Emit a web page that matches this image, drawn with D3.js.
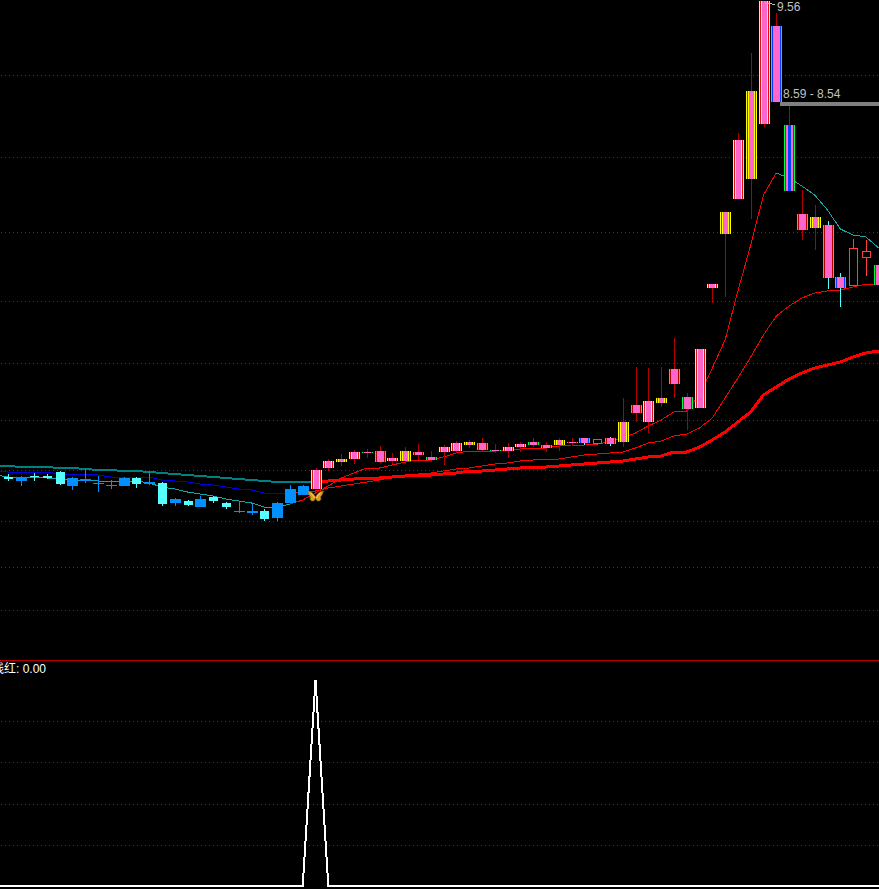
<!DOCTYPE html>
<html><head><meta charset="utf-8">
<script src="https://cdn.jsdelivr.net/npm/d3@7"></script>
<style>html,body{margin:0;padding:0;background:#000;overflow:hidden}svg{display:block}</style>
</head><body><svg id="c" width="879" height="889"></svg>
<script>
const bodyTop=[4.80,4.80,4.81,4.81,4.85,4.79,4.78,4.74,4.72,4.79,4.79,4.75,4.74,4.58,4.56,4.58,4.60,4.54,4.46,4.46,4.46,4.54,4.68,4.71,4.87,4.96,4.98,5.05,5.05,5.06,4.99,5.06,5.05,5.00,5.10,5.14,5.15,5.14,5.07,5.10,5.13,5.15,5.12,5.17,5.15,5.19,5.18,5.19,5.35,5.52,5.56,5.59,5.88,5.60,6.08,6.73,7.45,8.17,8.66,9.56,9.31,8.32,7.43,7.40,7.32,6.80,7.09,7.06,6.92];
const bodyBot=[4.78,4.76,4.80,4.79,4.73,4.71,4.76,4.73,4.71,4.71,4.73,4.73,4.53,4.54,4.52,4.50,4.56,4.50,4.45,4.44,4.38,4.39,4.54,4.62,4.68,4.89,4.95,4.98,5.04,4.95,4.96,4.96,5.02,4.97,5.05,5.06,5.12,5.07,5.06,5.06,5.10,5.12,5.09,5.12,5.14,5.14,5.14,5.13,5.15,5.44,5.35,5.54,5.73,5.48,5.49,6.69,7.23,7.58,7.78,8.33,8.55,7.66,7.27,7.29,6.79,6.69,6.72,7.00,6.72];
const highs=[4.83,4.81,4.84,4.83,4.86,4.80,4.88,4.81,4.77,4.80,4.80,4.85,4.75,4.59,4.57,4.61,4.61,4.55,4.55,4.53,4.48,4.55,4.72,4.72,4.89,4.98,5.03,5.07,5.08,5.11,5.04,5.10,5.13,5.06,5.12,5.16,5.17,5.19,5.13,5.14,5.15,5.19,5.15,5.19,5.19,5.19,5.18,5.20,5.59,5.90,5.89,5.90,6.19,5.64,6.08,6.73,7.45,8.24,9.04,9.56,9.44,8.51,7.67,7.52,7.36,6.84,7.18,7.17,7.02];
const lows=[4.76,4.71,4.76,4.78,4.72,4.67,4.74,4.65,4.68,4.71,4.69,4.72,4.51,4.51,4.51,4.50,4.54,4.48,4.44,4.42,4.36,4.36,4.54,4.62,4.68,4.86,4.91,4.93,4.99,4.94,4.93,4.93,4.97,4.95,4.92,5.04,5.09,5.05,5.04,4.99,5.05,5.10,5.05,5.06,5.11,5.12,5.12,5.11,5.10,5.35,5.24,5.50,5.59,5.27,5.49,6.54,6.60,7.58,7.38,8.30,8.55,7.66,7.17,7.07,6.68,6.50,6.72,6.81,6.67];
// c cyan, u blue, y yellow stripe, g green stripe, b blue stripe, m green+blue core, h hollow
const kinds="cucccuuuuucucucuccuucuuu".concat("yyyybgyygbyyygbyybgygbhgygyygbyyyyyybmgygbhhb");
const cyanWicks=[45,47,64,65,68];
// moving averages start one bar before the first candle
const fastMA=[4.82,4.80,4.80,4.80,4.79,4.78,4.77,4.77,4.76,4.76,4.76,4.76,4.74,4.70,4.68,4.65,4.63,4.61,4.58,4.56,4.54,4.50,4.50,4.53,4.57,4.64,4.71,4.79,4.84,4.89,4.89,4.92,4.95,4.97,4.97,5.00,5.04,5.06,5.06,5.06,5.07,5.08,5.09,5.09,5.11,5.12,5.12,5.13,5.15,5.19,5.24,5.31,5.37,5.45,5.46,5.62,5.89,6.17,6.66,7.12,7.62,7.84,7.79,7.71,7.62,7.47,7.28,7.22,7.20,7.09];
const midMA=[4.86,4.85,4.85,4.85,4.85,4.83,4.83,4.83,4.82,4.80,4.80,4.80,4.80,4.77,4.76,4.75,4.73,4.72,4.70,4.68,4.67,4.64,4.64,4.63,4.66,4.66,4.69,4.71,4.73,4.75,4.77,4.80,4.81,4.83,4.84,4.86,4.88,4.89,4.91,4.93,4.94,4.96,4.97,4.98,4.98,5.00,5.02,5.03,5.04,5.05,5.09,5.14,5.16,5.21,5.23,5.29,5.39,5.59,5.79,6.00,6.22,6.41,6.51,6.59,6.64,6.66,6.67,6.70,6.73,6.73];
const slowMA=[4.91,4.91,4.90,4.90,4.90,4.89,4.89,4.88,4.87,4.87,4.86,4.86,4.85,4.84,4.83,4.82,4.81,4.80,4.79,4.78,4.77,4.76,4.75,4.75,4.75,4.75,4.76,4.77,4.78,4.79,4.79,4.80,4.81,4.82,4.82,4.83,4.84,4.86,4.86,4.87,4.88,4.89,4.90,4.90,4.91,4.92,4.93,4.94,4.95,4.96,4.98,5.00,5.01,5.05,5.05,5.10,5.17,5.25,5.35,5.45,5.62,5.70,5.78,5.84,5.89,5.92,5.95,6.00,6.04,6.06];
const priceGrid=[8.82,8.00,7.25,6.56,5.94,5.37,4.87,4.36,3.90,3.47];
const signalGrid=[0.2,0.4,0.6,0.8];
const signalBars=[0,23,24,25,68];
const signalVals=[0,0,1,0,0];
const signalBar=24, signalPrice=4.61;
const hiLabel="9.56", hiPrice=9.56, rangeLabel="8.59 - 8.54", rangeLevel=8.54, subLabel="线红: 0.00";

const svg=d3.select("#c");
const x=d3.scaleLinear().domain([0,68]).range([8.3,878.7]);
const y=d3.scaleLinear().domain([9.57,2.97]).range([0,660]);
const ys=d3.scaleLinear().domain([0,1]).range([886,680]);
const W=879;
const P="#ff66cc",Y="#ffff00",G="#00ff40",B="#0040ff",R="#b00000",C="#55ffff",U="#0090ff",H="#ff4040",D="#e01010";
const stripes={
 y:[Y,D,Y,P,P,P,P,P,Y,D,Y],
 g:[G,R,P,P,P,P,P,P,P,R,G],
 b:[G,B,P,P,P,P,P,P,P,B,G],
 m:[G,B,P,P,B,B,B,P,P,B,G]
};
// grid: one dot in every four pixels
const g=svg.append("g").attr("shape-rendering","crispEdges");
g.selectAll(".pg").data(priceGrid).join("line").attr("class","pg").attr("x1",1).attr("x2",W)
 .attr("y1",d=>Math.round(y(d))+.5).attr("y2",d=>Math.round(y(d))+.5)
 .attr("stroke","#c80000").attr("stroke-dasharray","1 3");
g.selectAll(".sg").data(signalGrid).join("line").attr("class","sg").attr("x1",1).attr("x2",W)
 .attr("y1",d=>Math.round(ys(d))+.5).attr("y2",d=>Math.round(ys(d))+.5)
 .attr("stroke","#c80000").attr("stroke-dasharray","1 3");
g.append("line").attr("x1",0).attr("x2",W).attr("y1",660.5).attr("y2",660.5).attr("stroke","#c00000");

// moving averages, split by colour run
function seg(arr,from,to,color,w){
 const line=d3.line().x(d=>x(d.i)).y(d=>y(d.v));
 const pts=arr.map((v,k)=>({i:k-1,v})).filter(d=>d.i>=from&&d.i<=to);
 svg.append("path").attr("d",line(pts)).attr("fill","none").attr("stroke",color)
  .attr("stroke-width",w).attr("shape-rendering","crispEdges");
}
seg(slowMA,-1,24,"#008080",2);
seg(slowMA,24,68,"#ff0000",3);
seg(midMA,-1,22,"#0000e0",1);
seg(midMA,22,68,"#ff0000",1);
seg(fastMA,-1,22,"#10a8a8",1);
seg(fastMA,22,60,"#ff0000",1);
seg(fastMA,60,68,"#10a8a8",1);

// candles
const cg=svg.append("g");
bodyTop.forEach((t,i)=>{
 const k=kinds[i], c=Math.round(x(i)), yt=Math.round(y(t)), yb=Math.round(y(bodyBot[i])),
  yh=Math.round(y(highs[i])), yl=Math.round(y(lows[i]));
 const wc=cyanWicks.includes(i)?C:k==="c"?C:k==="u"?U:k==="h"?H:R;
 cg.append("rect").attr("x",c).attr("y",yh).attr("width",1).attr("height",Math.max(yl-yh,1)).attr("fill",wc);
 const h=Math.max(yb-yt,1);
 if(k==="c"){cg.append("rect").attr("x",c-4).attr("y",yt).attr("width",9).attr("height",h).attr("fill",C);}
 else if(k==="u"){cg.append("rect").attr("x",c-5).attr("y",yt).attr("width",11).attr("height",h).attr("fill",U);}
 else if(k==="h"){cg.append("rect").attr("x",c-4+.5).attr("y",yt+.5).attr("width",8).attr("height",h).attr("fill","#000").attr("stroke",H);}
 else stripes[k].forEach((col,s)=>cg.append("rect").attr("x",c-5+s).attr("y",yt).attr("width",1).attr("height",h).attr("fill",col));
});

// signal panel
const sl=d3.line().x((d,i)=>x(signalBars[i])).y(d=>ys(d));
svg.append("path").attr("d",sl(signalVals)).attr("fill","none").attr("stroke","#fff").attr("stroke-width",2).attr("shape-rendering","crispEdges");
svg.append("path").attr("d",`M${0},${ys(0)}H${x(0)}`).attr("stroke","#fff").attr("stroke-width",2).attr("shape-rendering","crispEdges");

// butterfly marker
const bx=x(signalBar),by=y(signalPrice);
const b=svg.append("g").attr("transform",`translate(${bx},${by})`);
b.append("path").attr("d","M0,1C-2,-3 -5,-5 -8,-5C-7,-2 -6,0 -5,1C-6,3 -5,5 -3,5C-1,5 0,3 0,1C0,3 1,5 3,5C5,5 6,3 5,1C6,0 7,-2 8,-5C5,-5 2,-3 0,1Z")
 .attr("fill","#d8a020").attr("stroke","#a06810").attr("stroke-width",.7);
b.append("path").attr("d","M-5,-3C-3,-2 -2,0 -1,2M5,-3C3,-2 2,0 1,2").attr("stroke","#ffe070").attr("fill","none").attr("stroke-width",1);

// annotations
const txt=(s,px,py,col)=>svg.append("text").attr("x",px).attr("y",py).attr("fill",col)
 .attr("font-family","'Liberation Sans','Noto Sans CJK SC',sans-serif").attr("font-size",12).text(s);
txt(hiLabel,777,11,"#c0c0c0");
svg.append("path").attr("d",`M${x(59)+1},${y(hiPrice)+2}H${x(59)+5}L775,${y(hiPrice)+4}`).attr("stroke","#c0c0c0").attr("fill","none").attr("shape-rendering","crispEdges");
txt(rangeLabel,783,98,"#c0c0c0");
svg.append("rect").attr("x",780).attr("y",y(rangeLevel)-1).attr("width",W-780).attr("height",4).attr("fill","#808080");
txt(subLabel,-8,673,"#ffffff");
</script></body></html>
